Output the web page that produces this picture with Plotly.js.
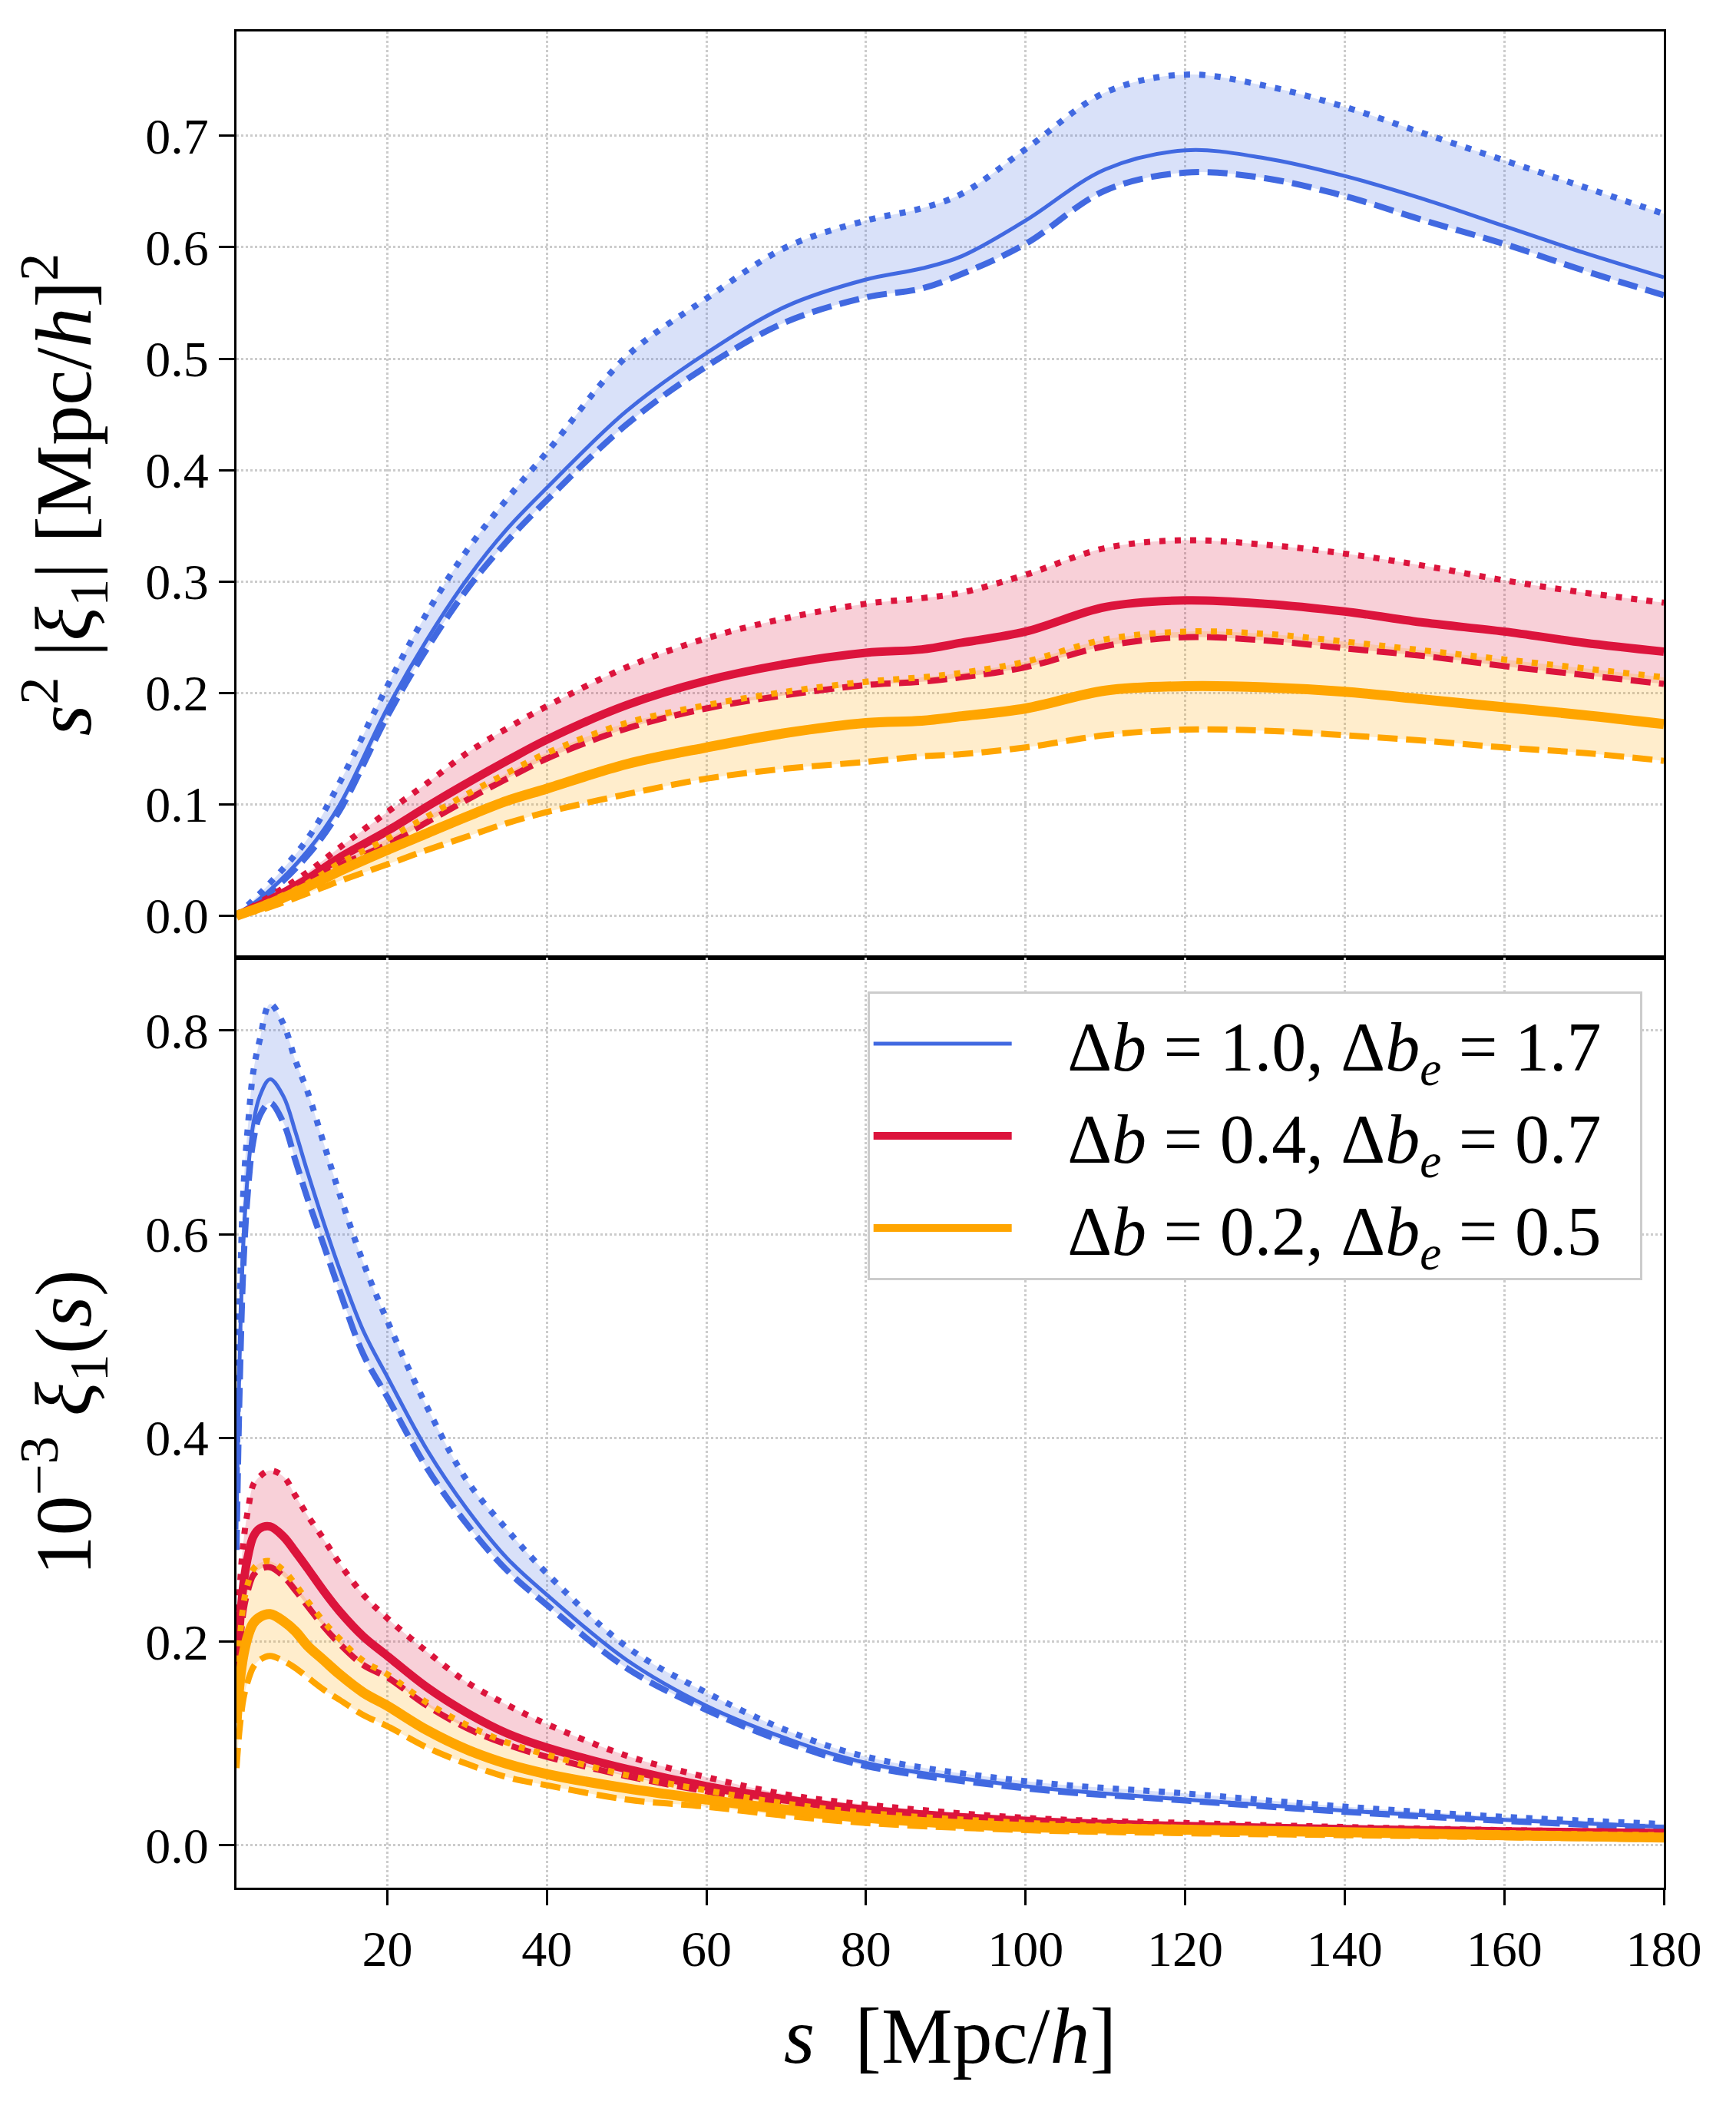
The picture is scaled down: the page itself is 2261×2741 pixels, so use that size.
<!DOCTYPE html>
<html lang="en">
<head>
<meta charset="UTF-8">
<title>xi_1 dipole</title>
<script src="https://cdn.plot.ly/plotly-3.0.1.min.js"></script>
<style>
    body { margin: 0; background: #ffffff; }
    #chart { width: 2261px; height: 2741px; }
</style>
</head>
<body>
<div id="chart"></div>
<script>
    // ---- top panel: s^2 |xi_1| ----
    var sTop = [1.1, 5, 10, 14, 20, 25, 30, 35, 40, 50, 60, 70, 80, 87, 92, 100, 110, 120, 130, 140, 150, 160, 170, 180];

    var topBlue    = [0, 0.021, 0.058, 0.099, 0.186, 0.248, 0.302, 0.347, 0.384, 0.453, 0.505, 0.547, 0.571, 0.581, 0.592, 0.624, 0.670, 0.687, 0.680, 0.664, 0.643, 0.619, 0.595, 0.573];
    var topBlueHi  = [0, 0.027, 0.069, 0.119, 0.206, 0.272, 0.328, 0.374, 0.416, 0.502, 0.554, 0.600, 0.624, 0.635, 0.648, 0.688, 0.739, 0.755, 0.745, 0.726, 0.702, 0.678, 0.654, 0.630];
    var topBlueLo  = [0, 0.019, 0.054, 0.094, 0.179, 0.240, 0.293, 0.336, 0.373, 0.441, 0.493, 0.533, 0.555, 0.563, 0.576, 0.603, 0.651, 0.667, 0.662, 0.646, 0.624, 0.603, 0.579, 0.557];

    var topRed     = [0, 0.013, 0.033, 0.052, 0.076, 0.098, 0.119, 0.139, 0.158, 0.189, 0.211, 0.226, 0.236, 0.239, 0.245, 0.255, 0.277, 0.283, 0.280, 0.273, 0.263, 0.255, 0.245, 0.237];
    var topRedHi   = [0, 0.016, 0.039, 0.061, 0.093, 0.119, 0.146, 0.168, 0.188, 0.223, 0.249, 0.267, 0.280, 0.285, 0.290, 0.306, 0.330, 0.337, 0.333, 0.325, 0.314, 0.301, 0.290, 0.281];
    var topRedLo   = [0, 0.011, 0.028, 0.045, 0.064, 0.084, 0.104, 0.123, 0.141, 0.168, 0.186, 0.198, 0.207, 0.210, 0.214, 0.223, 0.242, 0.250, 0.247, 0.240, 0.233, 0.224, 0.216, 0.208];

    var topOrange   = [0, 0.010, 0.026, 0.040, 0.059, 0.074, 0.089, 0.103, 0.114, 0.136, 0.151, 0.164, 0.173, 0.175, 0.179, 0.186, 0.202, 0.206, 0.205, 0.201, 0.194, 0.187, 0.180, 0.172];
    var topOrangeHi = [0, 0.012, 0.029, 0.047, 0.069, 0.089, 0.109, 0.128, 0.146, 0.173, 0.189, 0.201, 0.210, 0.214, 0.218, 0.228, 0.248, 0.255, 0.253, 0.246, 0.238, 0.230, 0.222, 0.214];
    var topOrangeLo = [0, 0.007, 0.020, 0.031, 0.046, 0.059, 0.071, 0.083, 0.093, 0.109, 0.123, 0.132, 0.138, 0.143, 0.145, 0.151, 0.162, 0.167, 0.166, 0.162, 0.157, 0.151, 0.146, 0.139];

    // ---- bottom panel: 10^-3 xi_1(s) ----
    var sBot = [1.1, 1.5, 2, 2.6, 3.2, 4, 5.3, 7, 8.5, 10, 12, 14, 17, 20, 25, 30, 35, 40, 50, 60, 70, 80, 100, 120, 140, 160, 180];

    var botBlue    = [0.31, 0.48, 0.597, 0.666, 0.708, 0.735, 0.752, 0.735, 0.700, 0.661, 0.612, 0.566, 0.505, 0.460, 0.388, 0.330, 0.282, 0.246, 0.182, 0.137, 0.105, 0.081, 0.058, 0.045, 0.034, 0.025, 0.018];
    var botBlueHi  = [0.35, 0.53, 0.648, 0.712, 0.759, 0.790, 0.826, 0.806, 0.770, 0.740, 0.690, 0.640, 0.572, 0.515, 0.430, 0.358, 0.310, 0.267, 0.195, 0.150, 0.113, 0.087, 0.063, 0.051, 0.038, 0.028, 0.021];
    var botBlueLo  = [0.29, 0.45, 0.575, 0.649, 0.691, 0.716, 0.729, 0.709, 0.672, 0.635, 0.590, 0.545, 0.482, 0.440, 0.370, 0.315, 0.270, 0.236, 0.174, 0.133, 0.101, 0.078, 0.056, 0.044, 0.033, 0.024, 0.017];

    var botRed     = [0.155, 0.215, 0.258, 0.286, 0.303, 0.311, 0.313, 0.303, 0.288, 0.272, 0.250, 0.230, 0.205, 0.186, 0.155, 0.130, 0.110, 0.096, 0.075, 0.058, 0.045, 0.035, 0.024, 0.019, 0.016, 0.0137, 0.012];
    var botRedHi   = [0.17, 0.25, 0.300, 0.332, 0.354, 0.362, 0.368, 0.362, 0.343, 0.324, 0.301, 0.277, 0.246, 0.223, 0.190, 0.160, 0.138, 0.119, 0.088, 0.067, 0.050, 0.040, 0.027, 0.022, 0.018, 0.015, 0.013];
    var botRedLo   = [0.14, 0.19, 0.231, 0.252, 0.265, 0.271, 0.273, 0.264, 0.250, 0.235, 0.215, 0.198, 0.177, 0.165, 0.137, 0.115, 0.099, 0.087, 0.068, 0.053, 0.040, 0.031, 0.022, 0.017, 0.014, 0.012, 0.010];

    var botOrange   = [0.12, 0.16, 0.188, 0.207, 0.218, 0.224, 0.227, 0.220, 0.210, 0.196, 0.182, 0.168, 0.150, 0.137, 0.113, 0.094, 0.080, 0.070, 0.056, 0.045, 0.035, 0.027, 0.018, 0.0155, 0.013, 0.010, 0.0076];
    var botOrangeHi = [0.15, 0.20, 0.238, 0.259, 0.271, 0.277, 0.279, 0.270, 0.256, 0.240, 0.220, 0.203, 0.181, 0.168, 0.140, 0.118, 0.101, 0.089, 0.069, 0.054, 0.041, 0.032, 0.022, 0.017, 0.014, 0.012, 0.010];
    var botOrangeLo = [0.076, 0.115, 0.145, 0.163, 0.175, 0.182, 0.186, 0.181, 0.174, 0.165, 0.153, 0.143, 0.128, 0.117, 0.096, 0.080, 0.067, 0.059, 0.045, 0.038, 0.029, 0.022, 0.015, 0.012, 0.010, 0.008, 0.006];

    var legendNames = [
        'Δ<i>b</i> = 1.0, Δ<i>b</i><sub><i>e</i></sub> = 1.7',
        'Δ<i>b</i> = 0.4, Δ<i>b</i><sub><i>e</i></sub> = 0.7',
        'Δ<i>b</i> = 0.2, Δ<i>b</i><sub><i>e</i></sub> = 0.5'
    ];

    var BLUE = '#4169e1', RED = '#dc143c', ORANGE = '#ffa500';
    var DASH = '26px,11px', DOT = '8px,12px';
    var FONT = 'Liberation Serif, Times New Roman, serif';
    var PAD = '\u00a0\u00a0\u00a0';

    // shaded band between lower and upper curve
    function band(x, lo, hi, fill, xa, ya) {
        return [
            { x: x, y: lo, xaxis: xa, yaxis: ya, mode: 'lines', line: { width: 0, shape: 'spline' },
              hoverinfo: 'skip', showlegend: false },
            { x: x, y: hi, xaxis: xa, yaxis: ya, mode: 'lines', line: { width: 0, shape: 'spline' },
              fill: 'tonexty', fillcolor: fill, hoverinfo: 'skip', showlegend: false }
        ];
    }

    function curve(x, y, color, width, dash, xa, ya, name) {
        var t = { x: x, y: y, xaxis: xa, yaxis: ya, mode: 'lines',
                  line: { color: color, width: width, dash: dash, shape: 'spline' },
                  showlegend: !!name };
        if (name) { t.name = PAD + name + '\u00a0\u00a0'; t.legendgroup = name; }
        return t;
    }

    var traces = [];
    // fills
    traces = traces.concat(band(sTop, topBlueLo, topBlueHi, 'rgba(65,105,225,0.2)', 'x', 'y'));
    traces = traces.concat(band(sTop, topRedLo, topRedHi, 'rgba(220,20,60,0.2)', 'x', 'y'));
    traces = traces.concat(band(sTop, topOrangeLo, topOrangeHi, 'rgba(255,165,0,0.2)', 'x', 'y'));
    traces = traces.concat(band(sBot, botBlueLo, botBlueHi, 'rgba(65,105,225,0.2)', 'x2', 'y2'));
    traces = traces.concat(band(sBot, botRedLo, botRedHi, 'rgba(220,20,60,0.2)', 'x2', 'y2'));
    traces = traces.concat(band(sBot, botOrangeLo, botOrangeHi, 'rgba(255,165,0,0.2)', 'x2', 'y2'));

    // top lines
    traces.push(curve(sTop, topBlueLo, BLUE, 8, DASH, 'x', 'y'));
    traces.push(curve(sTop, topBlueHi, BLUE, 8, DOT, 'x', 'y'));
    traces.push(curve(sTop, topBlue, BLUE, 5, 'solid', 'x', 'y'));
    traces.push(curve(sTop, topRedLo, RED, 8, DASH, 'x', 'y'));
    traces.push(curve(sTop, topRedHi, RED, 8, DOT, 'x', 'y'));
    traces.push(curve(sTop, topRed, RED, 11, 'solid', 'x', 'y'));
    traces.push(curve(sTop, topOrangeLo, ORANGE, 8, DASH, 'x', 'y'));
    traces.push(curve(sTop, topOrangeHi, ORANGE, 8, DOT, 'x', 'y'));
    traces.push(curve(sTop, topOrange, ORANGE, 13, 'solid', 'x', 'y'));

    // bottom lines
    traces.push(curve(sBot, botBlueLo, BLUE, 8, DASH, 'x2', 'y2'));
    traces.push(curve(sBot, botBlueHi, BLUE, 8, DOT, 'x2', 'y2'));
    traces.push(curve(sBot, botBlue, BLUE, 5, 'solid', 'x2', 'y2', legendNames[0]));
    traces.push(curve(sBot, botRedLo, RED, 8, DASH, 'x2', 'y2'));
    traces.push(curve(sBot, botRedHi, RED, 8, DOT, 'x2', 'y2'));
    traces.push(curve(sBot, botRed, RED, 11, 'solid', 'x2', 'y2', legendNames[1]));
    traces.push(curve(sBot, botOrangeLo, ORANGE, 8, DASH, 'x2', 'y2'));
    traces.push(curve(sBot, botOrangeHi, ORANGE, 8, DOT, 'x2', 'y2'));
    traces.push(curve(sBot, botOrange, ORANGE, 13, 'solid', 'x2', 'y2', legendNames[2]));

    var split = 0.5011;

    var baseAxis = {
        showline: true, mirror: true, linecolor: '#000000', linewidth: 3,
        showgrid: true, gridcolor: '#cccccc', gridwidth: 3, griddash: 'dot',
        zeroline: false,
        ticks: 'outside', ticklen: 20, tickwidth: 3, tickcolor: '#000000',
        tickfont: { family: FONT, size: 66, color: '#000000' }
    };

    function ax(extra) { return Object.assign({}, baseAxis, extra); }

    var layout = {
        width: 2261, height: 2741,
        margin: { l: 308, r: 94, t: 41, b: 283 },
        paper_bgcolor: '#ffffff', plot_bgcolor: '#ffffff',
        font: { family: FONT, color: '#000000' },
        showlegend: true,
        xaxis: ax({ anchor: 'y', domain: [0, 1], range: [1.1, 180], matches: 'x2',
                    tick0: 0, dtick: 20, showticklabels: false, ticks: '' }),
        xaxis2: ax({ anchor: 'y2', domain: [0, 1], range: [1.1, 180], tick0: 0, dtick: 20,
                     title: { text: '<i>s</i>  [Mpc/<i>h</i>]', font: { family: FONT, size: 104 }, standoff: 40 } }),
        yaxis: ax({ anchor: 'x', domain: [split, 1], range: [-0.0376, 0.7937], tick0: 0, dtick: 0.1, tickformat: '.1f',
                    title: { text: '<i>s</i><sup>2</sup> |<i>ξ</i><sub>1</sub>| [Mpc/<i>h</i>]<sup>2</sup>',
                             font: { family: FONT, size: 104 }, standoff: 36 } }),
        yaxis2: ax({ anchor: 'x2', domain: [0, split], range: [-0.0415, 0.8715], tick0: 0, dtick: 0.2, tickformat: '.1f',
                     title: { text: '10<sup>−3</sup> <i>ξ</i><sub>1</sub>(<i>s</i>)',
                              font: { family: FONT, size: 104 }, standoff: 36 } }),
        legend: {
            x: 0.442, y: 0.4828, xanchor: 'left', yanchor: 'top',
            traceorder: 'normal',
            bgcolor: '#ffffff', bordercolor: '#cccccc', borderwidth: 3,
            font: { family: FONT, size: 90, color: '#000000' },
            itemwidth: 180, tracegroupgap: 10
        }
    };

    Plotly.newPlot('chart', traces, layout, { displayModeBar: false, staticPlot: true });
</script>
</body>
</html>
